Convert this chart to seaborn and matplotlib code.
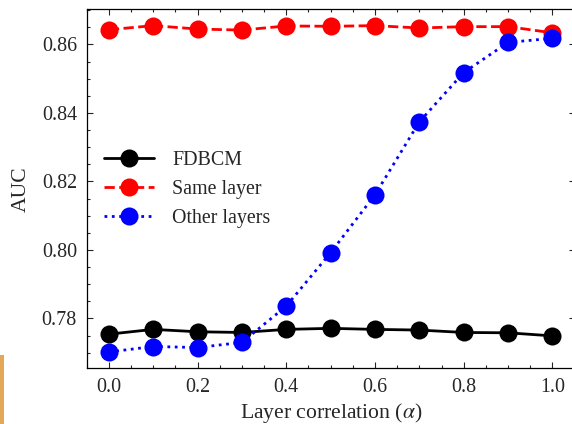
import matplotlib
matplotlib.use("Agg")
import matplotlib.pyplot as plt
import seaborn as sns
import numpy as np
import pandas as pd
from matplotlib.patches import Rectangle
from matplotlib.ticker import MultipleLocator

# ---- data ----
alpha = [0.0, 0.1, 0.2, 0.3, 0.4, 0.5, 0.6, 0.7, 0.8, 0.9, 1.0]
fdbcm = [0.7754, 0.7768, 0.7761, 0.7759, 0.7768, 0.7771, 0.7768, 0.7766, 0.7759, 0.7758, 0.7749]
same_layer = [0.8643, 0.8655, 0.8645, 0.8642, 0.8654, 0.8653, 0.8655, 0.8648, 0.8652, 0.8652, 0.8634]
other_layers = [0.7702, 0.7718, 0.7715, 0.7730, 0.7836, 0.7992, 0.8161, 0.8374, 0.8518, 0.8606, 0.8618]
series_names = ["FDBCM", "Same layer", "Other layers"]

sns.set_theme(style="ticks")
plt.rcParams["font.family"] = ["Liberation Serif", "DejaVu Serif"]
plt.rcParams["mathtext.fontset"] = "stix"

fig = plt.figure(figsize=(5.72, 4.24), dpi=100)
ax = fig.add_axes([86.7 / 572, 1 - 368.3 / 424, 487.9 / 572, 359.0 / 424])

df = pd.DataFrame({"alpha": alpha, "FDBCM": fdbcm,
                   "Same layer": same_layer, "Other layers": other_layers})

styles = {
    "FDBCM": dict(color="black", linestyle="-"),
    "Same layer": dict(color="red", linestyle="--"),
    "Other layers": dict(color="blue", linestyle=":"),
}
for name in series_names:
    sns.lineplot(data=df, x="alpha", y=name, ax=ax, label=name,
                 marker="o", markersize=13, markeredgewidth=0,
                 linewidth=2, **styles[name])

ax.set_xlim(-0.05, 1.05)
ax.set_xlabel(r"Layer correlation ($\alpha$)", fontsize=15.6, labelpad=3)
ax.set_ylabel("AUC", fontsize=15.6, labelpad=8)

ax.xaxis.set_major_locator(MultipleLocator(0.2))
ax.xaxis.set_minor_locator(MultipleLocator(0.05))
ax.yaxis.set_major_locator(MultipleLocator(0.02))
ax.yaxis.set_minor_locator(MultipleLocator(0.005))
ax.tick_params(which="both", direction="in", top=True, right=True,
               labelsize=14.4, width=0.8)
ax.tick_params(which="major", length=4.5, pad=7)
ax.tick_params(which="minor", length=2.5)
for s in ax.spines.values():
    s.set_linewidth(0.9)
    s.set_color("black")

ax.legend(loc="center left", bbox_to_anchor=(0.0355, 0.498), frameon=False,
          fontsize=14.4, borderpad=0, borderaxespad=0, handlelength=2.5,
          handletextpad=0.9, labelspacing=0.5)

fig.patches.append(Rectangle((0, 0), 4 / 572, 69 / 424, transform=fig.transFigure,
                             facecolor="#E3A857", edgecolor="none", zorder=10))

fig.savefig("out.png", dpi=100)
